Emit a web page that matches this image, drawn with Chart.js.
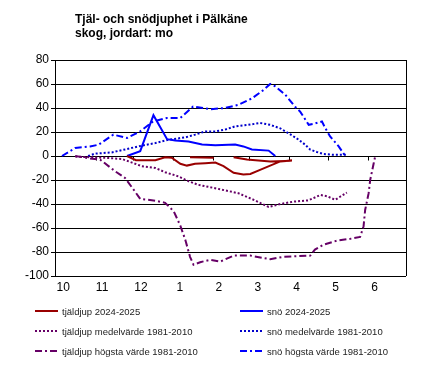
<!DOCTYPE html>
<html>
<head>
<meta charset="utf-8">
<script src="https://cdn.jsdelivr.net/npm/chart.js@4/dist/chart.umd.min.js"></script>
<style>
  body { margin: 0; background: #fff; }
  #wrap { position: relative; width: 430px; height: 376px; font-family: "Liberation Sans", Arial, sans-serif; }
  #chart { position: absolute; left: 0; top: 0; }
  #title { position: absolute; left: 75px; top: 12px; font-weight: bold; font-size: 12px; line-height: 14px; color: #000; }
  .item { position: absolute; height: 12px; display: flex; align-items: center; font-size: 9.5px; color: #222; white-space: nowrap; }
  .item svg { margin-right: 4px; }
</style>
</head>
<body>
<div id="wrap">
  <canvas id="chart" width="430" height="376"></canvas>
  <div id="title">Tjäl- och snödjuphet i Pälkäne<br>skog, jordart: mo</div>
  <div id="legend"></div>
</div>
<script>
// x values are month positions: 0 = "10" (oktober) ... 8 = "6" (juni)
const monthLabels = ['10', '11', '12', '1', '2', '3', '4', '5', '6'];
const zeroLineTicks = [0.85, 1.8, 2.83, 3.86, 4.78, 5.81, 6.81, 7.84];

// tjäldjup 2024-2025 (two branches)
const frostX = [1.64, 1.87, 2.37, 2.62, 2.79, 3.01, 3.18, 3.39, 3.65, 3.91, 4.12, 4.38, 4.63, 4.81, 5.06, 5.32, 5.58, 5.88];
const frostY = [0, -3.5, -3.5, -1, -1.5, -6.5, -8, -6.5, -6, -5.5, -8.5, -14, -15.5, -15, -11.5, -8, -4.5, -3.7];
const frostTopX = [3.26, 3.87, null, 4.38, 4.72, 5.32, 5.88];
const frostTopY = [-1, -1.5, null, -1, -3, -4.5, -4];

// tjäldjup medelvärde 1981-2010
const frostMeanX = [0.31, 1.08, 1.51, 1.77, 2.02, 2.37, 2.62, 2.96, 3.22, 3.47, 3.78, 4.07, 4.5, 4.93, 5.28, 5.58, 5.92, 6.3, 6.61, 6.78, 6.99, 7.29];
const frostMeanY = [-0.5, -1.5, -2.5, -5.5, -8.5, -10, -13.5, -17, -21, -24, -26, -28, -31, -37, -42.5, -40, -38, -37, -32.5, -33.5, -36.5, -30.5];

// tjäldjup högsta värde 1981-2010
const frostMaxX = [0.31, 0.69, 0.95, 1.34, 1.59, 1.81, 1.98, 2.32, 2.62, 2.84, 3.01, 3.14, 3.26, 3.35, 3.52, 3.78, 4.04, 4.38, 4.81, 5.32, 5.66, 6.35, 6.47, 6.69, 7.04, 7.38, 7.63, 7.72, 7.76, 7.85, 7.89, 7.98, 8.02];
const frostMaxY = [0, -2, -3, -12.8, -18.3, -28, -35.8, -37, -39, -46, -58, -70, -84, -90.6, -88.5, -86.5, -88, -83, -83, -86, -84, -83, -78, -74, -70.5, -69, -67.5, -58.5, -45, -31, -20, -6, 0];

// snö 2024-2025
const snowX = [1.64, 1.98, 2.32, 2.67, 2.88, 3.22, 3.57, 3.91, 4.42, 4.63, 4.85, 5.28, 5.45];
const snowY = [0, 4, 34, 14, 13, 12, 9.5, 9, 9.5, 8, 5.5, 4.5, 0];

// snö medelvärde 1981-2010
const snowMeanX = [0.64, 0.82, 1.25, 1.64, 2.02, 2.37, 2.71, 3.14, 3.39, 3.65, 3.91, 4.16, 4.42, 4.76, 5.06, 5.32, 5.58, 5.79, 6.05, 6.22, 6.35, 6.52, 6.69, 6.95, 7.29];
const snowMeanY = [0, 2, 3, 5.8, 8.6, 10.8, 13.6, 15.5, 17.8, 20.5, 20.5, 22, 24.7, 26, 27.5, 26, 23, 19, 13.6, 9.4, 5.3, 3.3, 1.7, 1, 1];

// snö högsta värde 1981-2010
const snowMaxX = [-0.03, 0.31, 0.69, 0.91, 1.29, 1.64, 1.98, 2.31, 2.67, 3.01, 3.34, 3.78, 4.16, 4.51, 4.85, 5.15, 5.32, 5.45, 5.71, 5.96, 6.09, 6.31, 6.43, 6.65, 6.74, 6.86, 7.08, 7.25];
const snowMaxY = [0, 6.7, 8, 9.4, 17.8, 15, 20.5, 28.8, 31.7, 31.7, 41.3, 39, 40, 42.7, 48, 55, 60, 58, 51, 41, 37, 26, 26.7, 28.8, 23, 16.3, 8, 0];

const FONT = '"Liberation Sans", Arial, sans-serif';
const RED = '#990000';
const BLUE = '#0000ff';
const BLUE_DOT = '#0000cc';
const PURPLE = '#660066';
const DOTTED = [2, 2];
const DASHDOT = [7, 3, 2, 3];

function points(xs, ys) {
  return xs.map((x, i) => ({ x: x === null ? NaN : x, y: ys[i] }));
}

const frostPoints = points(frostX, frostY).concat([{ x: NaN, y: null }], points(frostTopX, frostTopY));

const datasets = [
  { label: 'tjäldjup 2024-2025', data: frostPoints, borderColor: RED, borderDash: [] },
  { label: 'snö 2024-2025', data: points(snowX, snowY), borderColor: BLUE, borderDash: [] },
  { label: 'tjäldjup medelvärde 1981-2010', data: points(frostMeanX, frostMeanY), borderColor: PURPLE, borderDash: DOTTED },
  { label: 'snö medelvärde 1981-2010', data: points(snowMeanX, snowMeanY), borderColor: BLUE_DOT, borderDash: DOTTED },
  { label: 'tjäldjup högsta värde 1981-2010', data: points(frostMaxX, frostMaxY), borderColor: PURPLE, borderDash: DASHDOT },
  { label: 'snö högsta värde 1981-2010', data: points(snowMaxX, snowMaxY), borderColor: BLUE, borderDash: DASHDOT }
].map(ds => Object.assign(ds, { borderWidth: 2, pointRadius: 0, tension: 0, fill: false, spanGaps: false }));

// right frame edge and the small ticks on the zero line
const framePlugin = {
  id: 'frame',
  beforeDatasetsDraw(chart) {
    const { ctx, chartArea, scales } = chart;
    ctx.save();
    ctx.strokeStyle = '#000';
    ctx.lineWidth = 1;
    ctx.beginPath();
    const r = Math.round(chartArea.right) + 0.5;
    ctx.moveTo(r, chartArea.top);
    ctx.lineTo(r, chartArea.bottom);
    const y0 = Math.round(scales.y.getPixelForValue(0)) + 0.5;
    zeroLineTicks.forEach(v => {
      const x = Math.round(scales.x.getPixelForValue(v)) + 0.5;
      ctx.moveTo(x, y0);
      ctx.lineTo(x, y0 + 4);
    });
    ctx.stroke();
    ctx.restore();
  }
};

const chart = new Chart(document.getElementById('chart').getContext('2d'), {
  type: 'line',
  data: { datasets },
  plugins: [framePlugin],
  options: {
    responsive: false,
    animation: false,
    devicePixelRatio: 1,
    layout: { padding: { left: 0, top: 60, right: 24, bottom: 76 } },
    plugins: { legend: { display: false }, title: { display: false }, tooltip: { enabled: false } },
    scales: {
      x: {
        type: 'linear',
        min: -0.21,
        max: 8.81,
        afterBuildTicks(scale) {
          scale.ticks = monthLabels.map((_, i) => ({ value: i }));
        },
        ticks: {
          callback: (v) => monthLabels[v],
          color: '#000',
          font: { family: FONT, size: 12 },
          padding: 4,
          maxRotation: 0,
          autoSkip: false
        },
        grid: { display: false, drawTicks: false, tickLength: 0 },
        border: { display: false },
        afterFit(scale) { scale.height = 24; }
      },
      y: {
        min: -100,
        max: 80,
        ticks: { stepSize: 20, color: '#000', font: { family: FONT, size: 12 }, padding: 2 },
        grid: { color: '#000', lineWidth: 1, tickLength: 4 },
        border: { color: '#000' },
        afterFit(scale) { scale.width = 55; }
      }
    }
  }
});

// legend in two columns, built from the datasets
const legend = document.getElementById('legend');
chart.data.datasets.forEach((ds, i) => {
  const col = i % 2;
  const row = Math.floor(i / 2);
  const item = document.createElement('div');
  item.className = 'item';
  item.style.left = (col ? 240 : 35) + 'px';
  item.style.top = (305 + row * 20) + 'px';
  const dash = ds.borderDash.length ? ds.borderDash.join(',') : 'none';
  item.innerHTML = '<svg width="23" height="4"><line x1="0" y1="2" x2="23" y2="2" stroke="' + ds.borderColor +
    '" stroke-width="2" stroke-dasharray="' + dash + '"/></svg><span>' + ds.label + '</span>';
  legend.appendChild(item);
});
</script>
</body>
</html>
